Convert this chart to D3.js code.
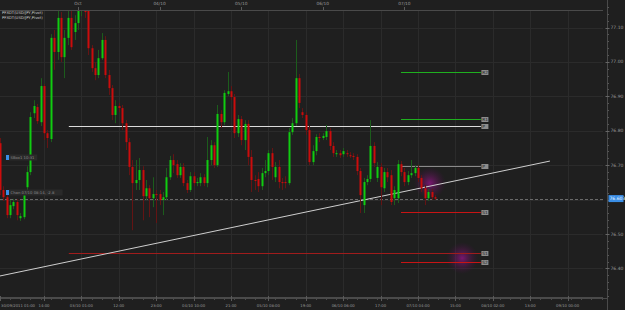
<!DOCTYPE html>
<html>
<head>
<meta charset="utf-8">
<script src="https://cdn.jsdelivr.net/npm/d3@7"></script>
<style>
  html, body { margin: 0; padding: 0; background: #1f1f1f; overflow: hidden; }
  svg text { font-family: "DejaVu Sans", sans-serif; }
</style>
</head>
<body>
<div id="canvas"></div>
<script>
// USD/JPY hourly candles, 30/09/2011 01:00 onwards (weekend skipped)
const opens = [76.764,76.628,76.607,76.555,76.581,76.593,76.546,76.549,76.636,76.680,
  76.851,76.869,76.825,76.930,76.793,76.776,77.070,77.029,77.128,77.014,
  77.070,77.128,77.087,77.113,77.151,77.163,77.151,77.040,76.982,76.962,
  77.011,77.064,76.962,76.924,76.846,76.872,76.866,76.822,76.767,76.695,
  76.648,76.657,76.686,76.610,76.633,76.604,76.616,76.616,76.599,76.607,
  76.665,76.715,76.703,76.671,76.695,76.648,76.628,76.668,76.648,76.648,
  76.665,76.648,76.715,76.758,76.700,76.849,76.825,76.907,76.915,76.898,
  76.793,76.834,76.773,76.820,76.724,76.657,76.660,76.639,76.677,76.683,
  76.735,76.665,76.695,76.651,76.651,76.648,76.796,76.822,76.953,76.854,
  76.846,76.802,76.709,76.741,76.782,76.779,76.782,76.799,76.756,76.732,
  76.735,76.732,76.735,76.729,76.727,76.724,76.683,76.584,76.651,76.660,
  76.756,76.663,76.695,76.633,76.680,76.671,76.604,76.604,76.703,76.680,
  76.651,76.671,76.677,76.692,76.663,76.633,76.604,76.622,76.607];
const highs = [76.779,76.639,76.613,76.599,76.602,76.602,76.561,76.628,76.697,76.854,
  76.889,76.878,76.953,76.936,76.802,77.081,77.093,77.151,77.145,77.093,
  77.151,77.151,77.136,77.174,77.180,77.180,77.165,77.049,77.000,77.035,
  77.084,77.075,76.977,76.933,76.889,76.881,76.875,76.831,76.779,76.715,
  76.715,76.721,76.697,76.657,76.642,76.665,76.628,76.628,76.622,76.692,
  76.727,76.732,76.715,76.706,76.706,76.657,76.680,76.680,76.663,76.677,
  76.674,76.782,76.773,76.767,76.875,76.860,76.918,76.971,76.930,76.907,
  76.846,76.843,76.831,76.831,76.744,76.671,76.680,76.692,76.715,76.744,
  76.750,76.709,76.715,76.663,76.668,76.808,76.837,77.064,76.965,76.866,
  76.854,76.814,76.758,76.790,76.793,76.793,76.817,76.808,76.767,76.744,
  76.744,76.750,76.744,76.738,76.735,76.732,76.692,76.663,76.671,76.831,
  76.767,76.709,76.706,76.692,76.692,76.686,76.639,76.715,76.712,76.692,
  76.683,76.715,76.700,76.700,76.671,76.642,76.631,76.631,76.613];
const lows = [76.613,76.596,76.546,76.546,76.572,76.540,76.538,76.543,76.628,76.671,
  76.837,76.820,76.814,76.773,76.750,76.767,76.977,77.006,77.000,76.953,
  77.049,77.035,77.064,77.093,77.133,77.128,77.020,76.971,76.947,76.953,
  77.006,76.953,76.904,76.831,76.822,76.854,76.802,76.744,76.671,76.511,
  76.628,76.628,76.540,76.599,76.549,76.578,76.532,76.584,76.555,76.599,
  76.657,76.677,76.663,76.663,76.639,76.619,76.622,76.639,76.639,76.639,
  76.639,76.636,76.700,76.692,76.695,76.808,76.817,76.901,76.889,76.779,
  76.782,76.758,76.744,76.700,76.622,76.628,76.622,76.628,76.665,76.671,
  76.657,76.651,76.633,76.628,76.633,76.642,76.788,76.814,76.866,76.837,
  76.788,76.700,76.700,76.729,76.767,76.773,76.773,76.744,76.724,76.724,
  76.721,76.724,76.724,76.721,76.715,76.671,76.561,76.561,76.642,76.651,
  76.695,76.651,76.584,76.622,76.651,76.584,76.584,76.590,76.668,76.639,
  76.642,76.663,76.668,76.651,76.622,76.584,76.596,76.599,76.599];
const closes = [76.628,76.607,76.555,76.584,76.593,76.555,76.552,76.613,76.680,76.840,
  76.872,76.828,76.930,76.793,76.779,77.070,77.029,77.128,77.014,77.070,
  77.128,77.043,77.113,77.151,77.163,77.145,77.040,76.982,76.962,77.011,
  77.064,76.962,76.924,76.846,76.872,76.866,76.822,76.767,76.695,76.648,
  76.657,76.686,76.610,76.633,76.604,76.616,76.613,76.599,76.607,76.665,
  76.715,76.700,76.671,76.695,76.648,76.628,76.668,76.648,76.651,76.665,
  76.648,76.715,76.758,76.700,76.849,76.825,76.910,76.915,76.898,76.793,
  76.834,76.773,76.820,76.724,76.657,76.654,76.639,76.677,76.683,76.735,
  76.695,76.695,76.651,76.648,76.648,76.796,76.822,76.953,76.881,76.846,
  76.802,76.709,76.741,76.782,76.779,76.785,76.799,76.756,76.735,76.735,
  76.729,76.741,76.732,76.727,76.724,76.683,76.613,76.651,76.660,76.756,
  76.706,76.695,76.636,76.680,76.665,76.593,76.628,76.703,76.680,76.651,
  76.671,76.677,76.692,76.663,76.633,76.604,76.622,76.607,76.603];

// axis ticks (candle index -> label)
const bottomTickIdx = [0,13,24,35,46,57,68,79,90,101,112,123,134,145,156,167];
const bottomTickLabels = ["30/09/2011 01:00","14:00","03/10 01:00","12:00","23:00","04/10 10:00",
  "21:00","05/10 08:00","19:00","06/10 06:00","17:00","07/10 04:00","15:00","08/10 02:00","13:00","09/10 00:00"];
const topTickIdx = [23,47,71,95,119];
const topTickLabels = ["Oct","04/10","05/10","06/10","07/10"];
const priceTicks = [76.4,76.5,76.7,76.8,76.9,77.0,77.1];

// pivot levels
const pivotNames = ["R2","R1","P","S1","S2","P","S1"];
const pivotValues = [76.971,76.835,76.698,76.563,76.419,76.815,76.446];
const pivotFrom = [118,118,118,118,118,20.3,20.3];
const pivotTo = [141.5,141.5,141.5,141.5,141.5,141.5,141.5];
const pivotColors = ["#1fb01f","#1fb01f","#8a8a8a","#c81414","#c81414","#dcdcdc","#a01c1c"];

// trend line and current price
const trendIdx = [0, 161.8];
const trendPrice = [76.378, 76.712];
const lastPrice = 76.603;
const glowIdx = [126.5, 136];
const glowPrice = [76.648, 76.430];

const W = 625, H = 310;
const plot = { left: 0, right: 603, top: 10, bottom: 297 };

const svg = d3.select("#canvas").append("svg")
  .attr("width", W).attr("height", H)
  .style("display", "block");

svg.append("rect").attr("width", W).attr("height", H).attr("fill", "#1f1f1f");

const x = d3.scaleLinear().domain([0, 177]).range([-0.2, 601.6]);
const y = d3.scaleLinear().domain([76.317, 77.151]).range([plot.bottom, plot.top]);

const defs = svg.append("defs");
defs.append("clipPath").attr("id", "clip")
  .append("rect").attr("x", plot.left).attr("y", plot.top)
  .attr("width", plot.right - plot.left).attr("height", plot.bottom - plot.top);

const glow = defs.append("radialGradient").attr("id", "glow");
glow.append("stop").attr("offset", "0%").attr("stop-color", "rgb(150,20,140)").attr("stop-opacity", 0.75);
glow.append("stop").attr("offset", "55%").attr("stop-color", "rgb(110,20,100)").attr("stop-opacity", 0.35);
glow.append("stop").attr("offset", "100%").attr("stop-color", "rgb(80,10,80)").attr("stop-opacity", 0);

// grid
const grid = svg.append("g");
grid.selectAll(".vg").data(bottomTickIdx.slice(1)).enter().append("line")
  .attr("x1", d => Math.round(x(d)) + 0.5).attr("x2", d => Math.round(x(d)) + 0.5)
  .attr("y1", plot.top).attr("y2", plot.bottom)
  .attr("stroke", "#2b2b2b").attr("stroke-width", 1);
grid.selectAll(".hg").data(d3.range(76.4, 77.15, 0.1)).enter().append("line")
  .attr("x1", plot.left).attr("x2", plot.right)
  .attr("y1", d => Math.round(y(d)) + 0.5).attr("y2", d => Math.round(y(d)) + 0.5)
  .attr("stroke", "#2b2b2b").attr("stroke-width", 1);

const g = svg.append("g").attr("clip-path", "url(#clip)");

// glows
g.selectAll(".glow").data(glowIdx).enter().append("circle")
  .attr("cx", d => x(d)).attr("cy", (d, i) => y(glowPrice[i]))
  .attr("r", 16).attr("fill", "url(#glow)");

// current price line
g.append("line")
  .attr("x1", plot.left).attr("x2", plot.right)
  .attr("y1", Math.round(y(lastPrice)) + 0.5).attr("y2", Math.round(y(lastPrice)) + 0.5)
  .attr("stroke", "#6a6a6a").attr("stroke-dasharray", "3,2");

// pivots
pivotValues.forEach((v, i) => {
  const yy = Math.round(y(v)) + 0.5;
  g.append("line")
    .attr("x1", x(pivotFrom[i])).attr("x2", x(pivotTo[i]))
    .attr("y1", yy).attr("y2", yy)
    .attr("stroke", pivotColors[i]).attr("stroke-width", 1.2);
  const lg = g.append("g").attr("transform", `translate(${x(pivotTo[i]) + 0.5},${yy})`);
  lg.append("rect").attr("x", 0).attr("y", -2.5).attr("width", 7).attr("height", 5).attr("fill", "#8c8c8c");
  lg.append("text").attr("x", 0.8).attr("y", 1.6).text(pivotNames[i])
    .attr("fill", "#1e1e1e").style("font-size", "4.3px");
});

// trend line
g.append("line")
  .attr("x1", x(trendIdx[0])).attr("y1", y(trendPrice[0]))
  .attr("x2", x(trendIdx[1])).attr("y2", y(trendPrice[1]))
  .attr("stroke", "#cfcfcf").attr("stroke-width", 1);

// candles
const candles = opens.map((o, i) => ({ i, o, h: highs[i], l: lows[i], c: closes[i] }));

g.selectAll(".wick").data(candles).enter().append("line")
  .attr("x1", d => Math.round(x(d.i)) + 0.5).attr("x2", d => Math.round(x(d.i)) + 0.5)
  .attr("y1", d => y(d.h)).attr("y2", d => y(d.l))
  .attr("stroke", d => d.c >= d.o ? "#1c5c1c" : "#641414").attr("stroke-width", 1);

g.selectAll(".body").data(candles).enter().append("rect")
  .attr("x", d => Math.round(x(d.i)) - 0.5)
  .attr("y", d => y(Math.max(d.o, d.c)))
  .attr("width", 2)
  .attr("height", d => Math.max(1, Math.abs(y(d.o) - y(d.c))))
  .attr("fill", d => d.c >= d.o ? "#10cc10" : "#cc0c0c");

// frame
svg.append("line").attr("x1", 0).attr("x2", plot.right).attr("y1", plot.top + 0.5).attr("y2", plot.top + 0.5)
  .attr("stroke", "#4a4a4a");
svg.append("line").attr("x1", 0).attr("x2", plot.right).attr("y1", plot.bottom + 0.5).attr("y2", plot.bottom + 0.5)
  .attr("stroke", "#4a4a4a");

// right price axis
const rightAxis = svg.append("g").attr("transform", "translate(607.5,0)");
rightAxis.append("line").attr("y1", 0).attr("y2", H).attr("stroke", "#4a4a4a");
rightAxis.selectAll(".minor").data(d3.range(76.32, 77.16, 0.02)).enter().append("line")
  .attr("x1", 0).attr("x2", 1.5).attr("y1", d => Math.round(y(d)) + 0.5).attr("y2", d => Math.round(y(d)) + 0.5)
  .attr("stroke", "#555");
rightAxis.selectAll(".major").data(priceTicks).enter().append("line")
  .attr("x1", -2).attr("x2", 2).attr("y1", d => Math.round(y(d)) + 0.5).attr("y2", d => Math.round(y(d)) + 0.5)
  .attr("stroke", "#666");
rightAxis.selectAll(".plabel").data(priceTicks).enter().append("text")
  .attr("x", 3).attr("y", d => y(d) + 1.5)
  .text(d => d.toFixed(2))
  .attr("fill", "#9a9a9a").style("font-size", "4.5px");

// current price label
const cp = rightAxis.append("g").attr("transform", `translate(1,${y(lastPrice)})`);
cp.append("rect").attr("x", 0).attr("y", -3.5).attr("width", 15).attr("height", 7).attr("fill", "#3a8ee6");
cp.append("text").attr("x", 1).attr("y", 1.6).text(lastPrice.toFixed(3))
  .attr("fill", "#e8f2ff").style("font-size", "4.5px");

// bottom axis
const bottomAxis = svg.append("g").attr("transform", `translate(0,${plot.bottom + 1})`);
bottomAxis.append("line").attr("x1", 0).attr("x2", 607).attr("y1", 0.5).attr("y2", 0.5).attr("stroke", "#4a4a4a");
bottomAxis.selectAll(".mt").data(d3.range(0, 178, 3)).enter().append("line")
  .attr("x1", d => Math.round(x(d)) + 0.5).attr("x2", d => Math.round(x(d)) + 0.5)
  .attr("y1", 0).attr("y2", 2).attr("stroke", "#4a4a4a");
bottomAxis.selectAll(".bt").data(bottomTickIdx).enter().append("line")
  .attr("x1", d => Math.round(x(d)) + 0.5).attr("x2", d => Math.round(x(d)) + 0.5)
  .attr("y1", -2).attr("y2", 3).attr("stroke", "#5a5a5a");
bottomAxis.selectAll(".bl").data(bottomTickIdx).enter().append("text")
  .attr("x", (d, i) => i === 0 ? 1 : x(d))
  .attr("y", 9)
  .attr("text-anchor", (d, i) => i === 0 ? "start" : "middle")
  .text((d, i) => bottomTickLabels[i])
  .attr("fill", "#9a9a9a").style("font-size", "3.8px");

// top axis
const topAxis = svg.append("g");
topAxis.selectAll(".tt").data(topTickIdx).enter().append("line")
  .attr("x1", d => Math.round(x(d)) + 0.5).attr("x2", d => Math.round(x(d)) + 0.5)
  .attr("y1", 7).attr("y2", plot.top).attr("stroke", "#5a5a5a");
topAxis.selectAll(".tl").data(topTickIdx).enter().append("text")
  .attr("x", d => x(d)).attr("y", 5).attr("text-anchor", "middle")
  .text((d, i) => topTickLabels[i])
  .attr("fill", "#9a9a9a").style("font-size", "4.3px");

// legend
["PFXOT(USD/JPY,Pivot)", "PFXOT(USD/JPY,Pivot)"].forEach((t, i) => {
  svg.append("text").attr("x", 2).attr("y", 14 + i * 4.5).text(t)
    .attr("fill", "#d0d0d0").style("font-size", "3.8px");
});

// object labels on the left
const objLabels = ["SBox1 10:31", "Chan 07/10 08:14, -2.8"];
const objY = [157.5, 192.5];
objLabels.forEach((t, i) => {
  const og = svg.append("g").attr("transform", `translate(6,${objY[i]})`);
  og.append("rect").attr("x", 3).attr("y", -3).attr("width", t.length * 2.3 + 3).attr("height", 6).attr("fill", "#2a2a2a");
  og.append("rect").attr("x", 0).attr("y", -2.5).attr("width", 3).attr("height", 5).attr("fill", "#3a8ee6");
  og.append("text").attr("x", 4.5).attr("y", 1.5).text(t)
    .attr("fill", "#8a8a8a").style("font-size", "3.8px");
});
</script>
</body>
</html>
